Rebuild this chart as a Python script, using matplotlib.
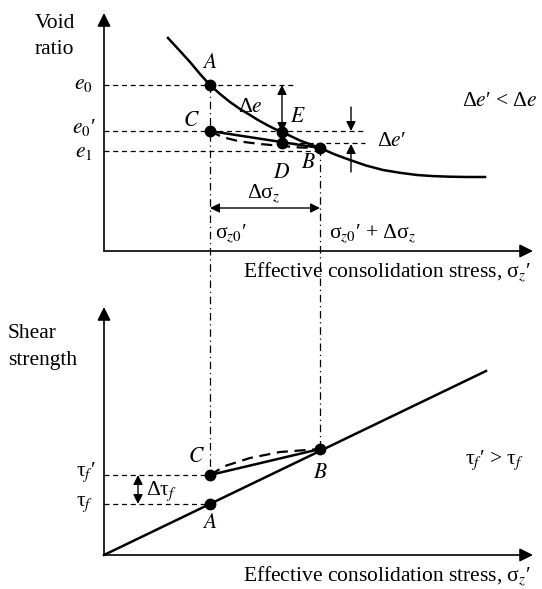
import matplotlib.pyplot as plt

plt.rcParams['font.family'] = ['Liberation Serif', 'DejaVu Serif']
plt.rcParams['mathtext.fontset'] = 'stix'

# sketch coordinates (pixel units of the original drawing, y grows downward)
# upper panel: void ratio vs effective consolidation stress
top_origin = (104, 251)
bot_origin = (104, 555)
x_end = 533
top_y_end = 13
bot_y_end = 307

sig0 = 210          # sigma_z0'
sig1 = 320          # sigma_z0' + d sigma_z
sig_E = 282         # E / D position

e0 = 85
e0p = 131
e1 = 151
eD = 143
eE = 132

curve_x = [168, 180, 190, 200, 210, 220, 230, 240, 250, 258, 267, 275, 282,
           300, 320, 335, 350, 366, 383, 400, 417, 433, 450, 467, 485]
curve_y = [38, 51, 62, 74, 85, 94, 102, 109, 115, 120, 125, 129, 132,
           140.5, 148, 154.5, 160, 165.5, 170, 172.8, 175, 176.1, 176.7, 177, 177]

reload_x = [210, 222, 240, 260, 282, 300, 320]
reload_y = [131, 137, 141.5, 144, 146, 147.5, 148]

# lower panel: shear strength vs effective consolidation stress
tau_f = 504
tau_fp = 475
env_end = (486, 371)
strength_x = [210, 225, 250, 280, 320]
strength_y = [475, 466, 458, 452, 449]
tau_B = 449

FS = 15.5

fig = plt.figure(figsize=(5.42, 5.89), dpi=100)
ax = fig.add_axes([0, 0, 1, 1])
ax.set_xlim(0, 542)
ax.set_ylim(589, 0)
ax.axis('off')


def arrow(tail, tip, lw=1.0, scale=18, both=False):
    style = '<|-|>' if both else '-|>'
    ax.annotate('', xy=tip, xytext=tail,
                arrowprops=dict(arrowstyle=style, color='black', lw=lw,
                                shrinkA=0, shrinkB=0, mutation_scale=scale))


# axes
for ox, oy, ytop in [(top_origin[0], top_origin[1], top_y_end),
                     (bot_origin[0], bot_origin[1], bot_y_end)]:
    arrow((ox, oy), (ox, ytop), lw=1.2, scale=20)
    arrow((ox, oy), (x_end, oy), lw=1.2, scale=20)

dash = dict(color='black', lw=0.9, ls=(0, (4, 3)))
dashdot = dict(color='black', lw=0.9, ls=(0, (6, 3, 1, 3)))

# upper panel guide lines
ax.plot([104, 295], [e0, e0], **dash)
ax.plot([104, 365], [e0p, e0p], **dash)
ax.plot([104, sig1], [e1, e1], **dash)
ax.plot([sig_E, 365], [eD, eD], **dash)

# vertical dash-dot projections
ax.plot([sig0, sig0], [e0, tau_fp], **dashdot)
ax.plot([sig1, sig1], [148, tau_B], **dashdot)

# compression curve
ax.plot(curve_x, curve_y, color='black', lw=1.8, solid_joinstyle='round')
ax.plot([sig0, sig1], [e0p, 148], color='black', lw=1.8)
ax.plot(reload_x, reload_y, color='black', lw=1.6, ls=(0, (5, 3)))

ax.plot([sig0, sig0, sig_E, sig_E, sig1], [e0, e0p, eE, eD, 148], 'o',
        color='black', ms=7.5)

# lower panel
ax.plot([bot_origin[0], env_end[0]], [bot_origin[1], env_end[1]],
        color='black', lw=1.8)
ax.plot([sig0, sig1], [tau_fp, tau_B], color='black', lw=1.8)
ax.plot(strength_x, strength_y, color='black', lw=1.6, ls=(0, (5, 3)))
ax.plot([104, sig0], [tau_fp, tau_fp], **dash)
ax.plot([104, sig0], [tau_f, tau_f], **dash)
ax.plot([sig0, sig0, sig1], [tau_f, tau_fp, tau_B], 'o', color='black', ms=7.5)

# dimension arrows
arrow((sig_E, e0), (sig_E, eE), both=True, scale=14)
arrow((sig0, 208), (sig1, 208), both=True, scale=14)
arrow((138, tau_fp), (138, tau_f), both=True, scale=14)
arrow((351, 107), (351, e0p), scale=14)
arrow((351, 172), (351, eD + 1), scale=14)

# texts
kw = dict(fontsize=FS, color='black')
ax.text(35, 24, 'Void', ha='left', va='center', **kw)
ax.text(35, 50, 'ratio', ha='left', va='center', **kw)
ax.text(8, 333, 'Shear', ha='left', va='center', **kw)
ax.text(8, 360, 'strength', ha='left', va='center', **kw)

ax.text(93, e0, r'$e_0$', ha='right', va='center', **kw)
ax.text(96, e0p - 3, r"$e_0$′", ha='right', va='center', **kw)
ax.text(93, e1 + 2, r'$e_1$', ha='right', va='center', **kw)

ax.text(210, 63, r'$A$', ha='center', va='center', **kw)
ax.text(191, 121, r'$C$', ha='center', va='center', **kw)
ax.text(298, 117, r'$E$', ha='center', va='center', **kw)
ax.text(282, 173, r'$D$', ha='center', va='center', **kw)
ax.text(308, 164, r'$B$', ha='center', va='center', **kw)
ax.text(250, 108, r'Δ$e$', ha='center', va='center', **kw)
ax.text(377, 141, r"Δ$e$′", ha='left', va='center', **kw)
ax.text(538, 101, r"Δ$e$′ < Δ$e$", ha='right', va='center', **kw)
ax.text(264, 194, r'Δσ$_z$', ha='center', va='center', **kw)
ax.text(215, 234, r"σ$_{z0}$′", ha='left', va='center', **kw)
ax.text(329, 234, r"σ$_{z0}$′ + Δσ$_z$", ha='left', va='center', **kw)
ax.text(531, 272, r"Effective consolidation stress, σ$_z$′", ha='right',
        va='center', **kw)

ax.text(96, tau_fp - 3, r"τ$_f$′", ha='right', va='center', **kw)
ax.text(93, tau_f, r"τ$_f$", ha='right', va='center', **kw)
ax.text(146, 491, r"Δτ$_f$", ha='left', va='center', **kw)
ax.text(196, 457, r'$C$', ha='center', va='center', **kw)
ax.text(210, 524, r'$A$', ha='center', va='center', **kw)
ax.text(320, 474, r'$B$', ha='center', va='center', **kw)
ax.text(524, 460, r"τ$_f$′ > τ$_f$", ha='right', va='center', **kw)
ax.text(531, 576, r"Effective consolidation stress, σ$_z$′", ha='right',
        va='center', **kw)

fig.savefig('out.png', dpi=100)
